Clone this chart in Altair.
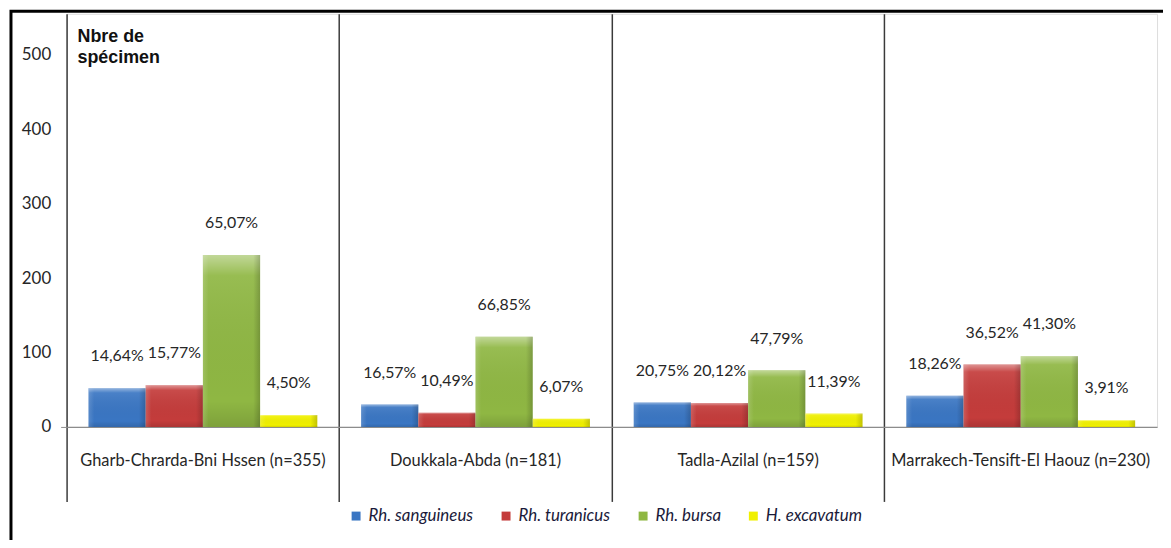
import altair as alt
import pandas as pd

regions = ["Gharb-Chrarda-Bni Hssen (n=355)", "Doukkala-Abda (n=181)",
           "Tadla-Azilal (n=159)", "Marrakech-Tensift-El Haouz (n=230)"]
species = ["Rh. sanguineus", "Rh. turanicus", "Rh. bursa", "H. excavatum"]
colors = ["#3a76c3", "#c43c3b", "#8fb743", "#f0f000"]

sanguineus = [52, 30, 33, 42]
turanicus = [56, 19, 32, 84]
bursa = [231, 121, 76, 95]
excavatum = [16, 11, 18, 9]

pct_sanguineus = ["14,64%", "16,57%", "20,75%", "18,26%"]
pct_turanicus = ["15,77%", "10,49%", "20,12%", "36,52%"]
pct_bursa = ["65,07%", "66,85%", "47,79%", "41,30%"]
pct_excavatum = ["4,50%", "6,07%", "11,39%", "3,91%"]

y_ticks = [0, 100, 200, 300, 400, 500]

counts = [sanguineus, turanicus, bursa, excavatum]
pcts = [pct_sanguineus, pct_turanicus, pct_bursa, pct_excavatum]
rows = []
for s, sp in enumerate(species):
    for r, reg in enumerate(regions):
        rows.append({"region": reg, "species": sp, "n": counts[s][r], "pct": pcts[s][r]})
df = pd.DataFrame(rows)

W, H = 1098, 416
FONT = "Lato"
TXT = "#262626"

x_enc = alt.X("region:N", sort=regions,
              scale=alt.Scale(paddingInner=0, paddingOuter=0),
              axis=alt.Axis(title=None, labelAngle=0, bandPosition=0, labelLimit=0,
                            labelFont=FONT, labelFontSize=16.5, labelColor=TXT,
                            labelPadding=-49, labelBaseline="top",
                            ticks=True, tickSize=75, tickColor="#3a3a3a", tickWidth=1.5,
                            grid=True, gridColor="#3a3a3a", gridWidth=1.5,
                            domain=True, domainColor="#8c8c8c", domainWidth=1.2))
xo_enc = alt.XOffset("species:N", sort=species,
                     scale=alt.Scale(paddingInner=0, paddingOuter=0.383))
y_enc = alt.Y("n:Q", scale=alt.Scale(domain=[0, 555], nice=False),
              axis=alt.Axis(title=None, values=y_ticks, grid=False, domain=False,
                            ticks=True, tickSize=6,
                            tickColor=alt.condition("datum.value == 0", alt.value("#8c8c8c"), alt.value("transparent")),
                            labelFont=FONT, labelFontSize=17, labelColor=TXT, labelPadding=10))

bars = alt.Chart(df).mark_bar(stroke=None).encode(
    x=x_enc, xOffset=xo_enc, y=y_enc,
    color=alt.Color("species:N", sort=species,
                    scale=alt.Scale(domain=species, range=colors),
                    legend=alt.Legend(title=None, orient="none", direction="horizontal",
                                      legendX=283, legendY=497, padding=0,
                                      symbolType="square", symbolSize=81, symbolStrokeWidth=0,
                                      labelFont=FONT, labelFontStyle="italic", labelFontSize=17,
                                      labelColor="#1a1a3a", labelOffset=4, columnPadding=24)),
)

shade_v = {"gradient": "linear", "x1": 0, "y1": 0, "x2": 0, "y2": 1,
           "stops": [{"offset": 0, "color": "rgba(255,255,255,0.45)"},
                     {"offset": 0.12, "color": "rgba(255,255,255,0.08)"},
                     {"offset": 0.85, "color": "rgba(0,0,0,0.0)"},
                     {"offset": 1, "color": "rgba(0,0,0,0.12)"}]}
shade_h = {"gradient": "linear", "x1": 0, "y1": 0, "x2": 1, "y2": 0,
           "stops": [{"offset": 0, "color": "rgba(255,255,255,0.15)"},
                     {"offset": 0.1, "color": "rgba(255,255,255,0.0)"},
                     {"offset": 0.88, "color": "rgba(0,0,0,0.0)"},
                     {"offset": 1, "color": "rgba(0,0,0,0.18)"}]}
bevel_v = alt.Chart(df).mark_bar(color=shade_v, stroke=None).encode(
    x=alt.X("region:N", sort=regions), xOffset=alt.XOffset("species:N", sort=species), y="n:Q")
bevel_h = alt.Chart(df).mark_bar(color=shade_h, stroke=None).encode(
    x=alt.X("region:N", sort=regions), xOffset=alt.XOffset("species:N", sort=species), y="n:Q")

labels = alt.Chart(df).mark_text(baseline="bottom", dy=-24, font=FONT, fontSize=16, color=TXT).encode(
    x=alt.X("region:N", sort=regions), xOffset=alt.XOffset("species:N", sort=species),
    y="n:Q", text="pct:N",
)

title_df = pd.DataFrame({"t": ["Nbre de\nspécimen"]})
ytitle = alt.Chart(title_df).mark_text(align="left", baseline="alphabetic", lineBreak="\n",
                                       lineHeight=22, font="Liberation Sans", fontWeight="bold",
                                       fontSize=18, color="#111111").encode(
    x=alt.value(11), y=alt.value(28), text="t:N")

border = alt.Chart(title_df).mark_rect(fill=None, stroke="#000000", strokeWidth=3).encode(
    x=alt.value(-56), x2=alt.value(W + 60), y=alt.value(-2.5), y2=alt.value(H + 200))

chart = alt.layer(bars, bevel_v, bevel_h, labels, ytitle, border).properties(
    width=W, height=H,
    autosize=alt.AutoSizeParams(type="none"),
    padding={"left": 59, "top": 4, "right": 6, "bottom": 112},
).configure_view(stroke=None).configure(background="white")

chart.save("out.html", embed_options={"renderer": "svg", "actions": False})
